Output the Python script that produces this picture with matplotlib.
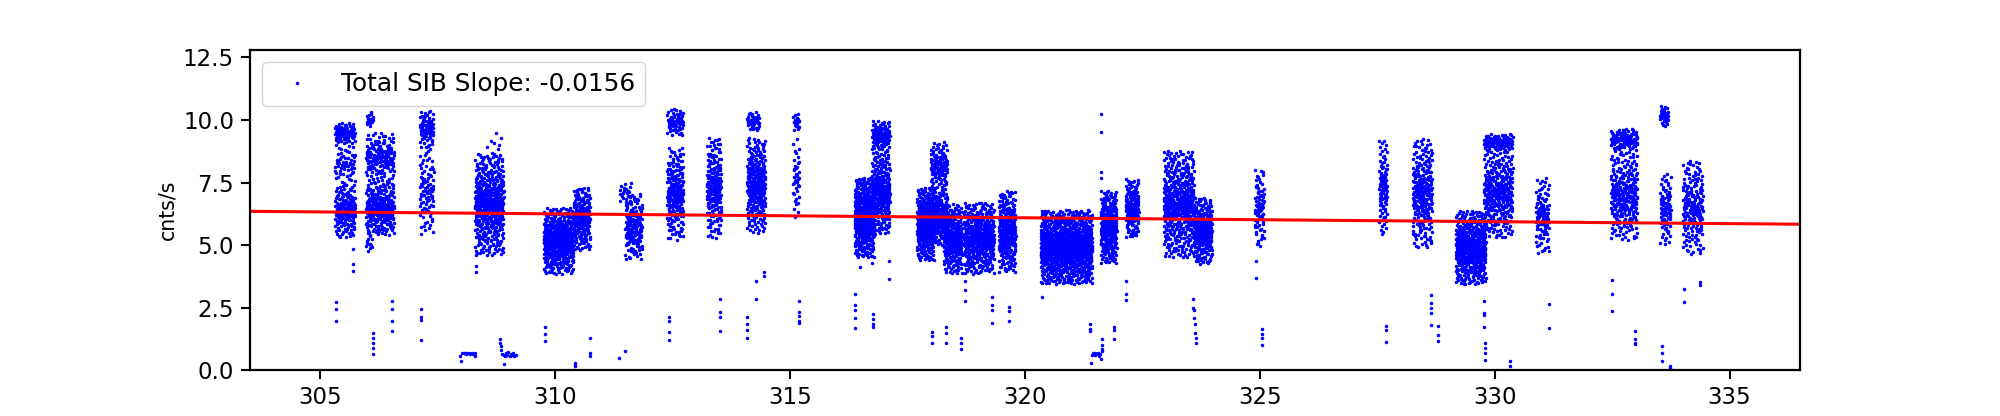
import numpy as np
import matplotlib.pyplot as plt

# dense groups: x from, x to, y from, y to, number of points
band_x0 = [305.31, 305.31, 305.31, 305.98, 305.97, 305.97, 305.97, 307.11, 307.11,
           308.29, 308.55, 309.75, 310.39, 311.35, 311.49, 312.38, 312.38, 313.23,
           314.08, 314.08, 315.06, 315.06, 316.37, 316.74, 316.74, 317.70, 317.99,
           317.99, 318.27, 318.70, 319.44, 320.33, 321.61, 322.14, 322.95, 323.60,
           324.89, 327.54, 328.25, 329.17, 329.77, 329.77, 330.87, 332.47, 332.47,
           333.52, 333.52, 334.00]
band_x1 = [305.74, 305.74, 305.74, 306.12, 306.57, 306.57, 306.10, 307.41, 307.41,
           308.90, 308.85, 310.39, 310.74, 311.63, 311.85, 312.73, 312.73, 313.53,
           314.35, 314.47, 315.20, 315.20, 316.78, 317.12, 317.12, 318.06, 318.34,
           318.34, 318.66, 319.34, 319.80, 321.43, 321.95, 322.42, 323.60, 323.98,
           325.09, 327.71, 328.67, 329.81, 330.38, 330.38, 331.16, 333.04, 333.04,
           333.70, 333.75, 334.43]
band_y0 = [9.05, 7.40, 5.30, 9.65, 7.50, 5.40, 4.65, 8.90, 5.40,
           4.60, 8.65, 3.85, 4.80, 6.65, 4.40, 9.38, 5.20, 5.30,
           9.58, 5.50, 9.58, 6.10, 4.50, 8.78, 5.44, 4.38, 7.18,
           5.00, 3.85, 3.85, 3.90, 3.45, 4.25, 5.30, 4.50, 4.25,
           4.90, 5.44, 4.90, 3.45, 8.78, 5.30, 4.65, 8.78, 5.20,
           9.75, 5.00, 4.60]
band_y1 = [9.92, 9.05, 7.45, 10.40, 9.50, 7.50, 5.40, 10.40, 8.90,
           8.65, 9.50, 6.50, 7.30, 7.60, 7.05, 10.45, 8.90, 9.30,
           10.32, 9.30, 10.30, 9.30, 7.70, 9.98, 8.78, 7.30, 9.12,
           7.18, 6.65, 6.70, 7.18, 6.40, 7.18, 7.65, 8.78, 6.90,
           8.05, 9.18, 9.25, 6.38, 9.45, 8.78, 7.72, 9.65, 8.78,
           10.55, 7.90, 8.40]
band_n = [70, 60, 150, 15, 150, 250, 12, 70, 90,
          450, 8, 420, 200, 20, 150, 60, 200, 200,
          40, 250, 20, 40, 400, 100, 250, 300, 120,
          200, 250, 400, 250, 900, 250, 150, 450, 250,
          80, 90, 250, 450, 100, 300, 100, 100, 250,
          30, 80, 180]

# single points away from the groups
out_x = [305.33, 305.33, 305.33, 305.70, 305.70, 305.70,
         306.11, 306.11, 306.11, 306.11, 306.11, 306.53, 306.53, 306.53, 306.53,
         307.13, 307.13, 307.13, 307.13, 308.31, 308.31, 308.31,
         307.97, 308.00, 308.02, 308.05, 308.08, 308.10, 308.13, 308.16, 308.19,
         308.22, 308.25, 308.28, 308.30,
         308.83, 308.83, 308.84, 308.85, 308.86, 308.90, 308.93, 308.95, 308.98,
         309.00, 309.03, 309.06, 309.08, 309.10, 309.13, 309.16, 308.91,
         309.79, 309.79, 309.79, 310.42, 310.42, 310.42, 310.73, 310.73, 310.73,
         311.35, 311.49,
         312.41, 312.41, 312.41, 312.41, 313.50, 313.50, 313.50, 313.50,
         314.28, 314.45, 314.45, 314.28, 314.09, 314.09, 314.09, 314.09,
         315.18, 315.18, 315.18, 315.18, 315.18,
         316.39, 316.39, 316.39, 316.39, 316.39, 316.76, 316.76, 316.76, 316.76,
         317.10, 317.10, 316.48, 316.74,
         318.02, 318.02, 318.02, 318.31, 318.31, 318.31, 318.63, 318.63, 318.63,
         318.73, 318.73, 318.73, 319.29, 319.29, 319.29, 319.29,
         319.66, 319.66, 319.66, 320.36, 321.39, 321.39, 321.39,
         321.40, 321.42, 321.45, 321.48, 321.50, 321.52, 321.55, 321.57, 321.60,
         321.62, 321.64, 321.64, 321.64, 321.64,
         321.89, 321.89, 321.89, 321.61, 321.61, 321.61, 321.61,
         322.16, 322.16, 322.16,
         323.57, 323.58, 323.59, 323.60, 323.61, 323.62, 323.63, 323.64,
         324.91, 324.91, 325.04, 325.04, 325.04, 325.04,
         327.68, 327.68, 327.68,
         328.65, 328.65, 328.65, 328.65, 328.65, 328.79, 328.79, 328.79,
         329.18, 329.22, 329.28, 329.35,
         329.77, 329.77, 329.77, 329.77, 329.79, 329.79, 329.79, 329.79,
         330.33, 330.33, 331.16, 331.16, 332.49, 332.49, 332.49,
         332.99, 332.99, 332.99, 332.99, 333.56, 333.56, 333.56,
         333.74, 333.74, 333.74, 334.02, 334.02, 334.38, 334.38]
out_y = [2.71, 2.44, 1.97, 4.84, 4.24, 3.98,
         1.50, 1.30, 1.10, 0.90, 0.66, 2.77, 2.44, 1.97, 1.57,
         2.44, 2.11, 2.00, 1.20, 4.62, 4.18, 3.91,
         0.57, 0.37, 0.70, 0.68, 0.70, 0.66, 0.70, 0.68, 0.66,
         0.70, 0.64, 0.68, 0.57,
         1.24, 1.10, 0.95, 0.80, 0.66, 0.60, 0.55, 0.68, 0.62,
         0.72, 0.58, 0.66, 0.60, 0.70, 0.55, 0.62, 0.24,
         1.71, 1.44, 1.17, 0.30, 0.22, 0.17, 1.30, 0.70, 0.57,
         0.48, 0.77,
         2.11, 1.97, 1.51, 1.20, 2.84, 2.31, 2.11, 1.57,
         3.58, 3.91, 3.75, 2.84, 2.11, 1.85, 1.60, 1.30,
         2.75, 2.31, 2.15, 1.98, 1.87,
         3.04, 2.60, 2.40, 2.10, 1.70, 2.24, 2.05, 1.85, 1.73,
         4.38, 3.64, 4.14, 4.27,
         1.51, 1.35, 1.07, 1.71, 1.50, 1.10, 1.28, 1.10, 0.84,
         3.58, 3.20, 2.77, 2.91, 2.60, 2.40, 1.90,
         2.51, 2.35, 1.97, 2.93, 1.84, 1.65, 1.57,
         0.30, 0.62, 0.68, 0.62, 0.70, 0.65, 0.70, 0.58, 0.66,
         0.45, 1.24, 1.00, 0.85, 0.77,
         1.73, 1.60, 1.24, 10.25, 9.52, 7.92, 7.70,
         3.55, 3.05, 2.80,
         2.84, 2.50, 2.40, 2.10, 1.85, 1.50, 1.30, 1.07,
         4.38, 3.68, 1.64, 1.45, 1.30, 1.01,
         1.77, 1.60, 1.14,
         3.02, 2.70, 2.50, 2.30, 1.80, 1.75, 1.40, 1.17,
         3.98, 3.80, 3.65, 3.44,
         2.75, 2.30, 2.20, 1.71, 1.10, 0.90, 0.70, 0.40,
         0.35, 0.17, 2.64, 1.68, 3.60, 3.04, 2.37,
         1.57, 1.25, 1.10, 1.04, 0.97, 0.70, 0.37,
         0.17, 0.10, 0.05, 3.24, 2.73, 3.53, 3.40]

slope = -0.0156
line_y0 = 6.35  # fit value at the left edge
x_min, x_max = 303.5, 336.5


def halton(i, base):
    f, r = 1.0, 0.0
    while i > 0:
        f = f / base
        r = r + f * (i % base)
        i = i // base
    return r


def fill_band(x0, x1, y0, y1, n, k):
    # spread n points over the band, a bit denser towards its middle
    start = 7 + 37 * k
    u = np.array([halton(start + i, 2) for i in range(n)])
    v = np.array([halton(start + i, 3) for i in range(n)])
    t = 2 * v - 1
    t = 0.55 * t + 0.45 * t ** 3
    return x0 + u * (x1 - x0), (y0 + y1) / 2 + t * (y1 - y0) / 2


xs, ys = [], []
for k in range(len(band_n)):
    bx, by = fill_band(band_x0[k], band_x1[k], band_y0[k], band_y1[k], band_n[k], k)
    xs.append(bx)
    ys.append(by)
xs.append(np.array(out_x))
ys.append(np.array(out_y))
x = np.concatenate(xs)
y = np.concatenate(ys)

fig, ax = plt.subplots(figsize=(20, 4.16), dpi=100)
ax.plot(x, y, 'b.', markersize=3, label='Total SIB Slope: %.4f' % slope)
lx = np.array([x_min, x_max])
ax.plot(lx, line_y0 + slope * (lx - x_min), 'r-', linewidth=2.2)

ax.set_xlim(x_min, x_max)
ax.set_ylim(0, 12.8)
ax.set_yticks([0, 2.5, 5, 7.5, 10, 12.5])
ax.set_ylabel('cnts/s', fontsize=14.8)
ax.tick_params(labelsize=16.5, length=6.5, width=1.5, pad=5)
for s in ax.spines.values():
    s.set_linewidth(1.6)
ax.legend(loc='upper left', fontsize=17.8)

plt.savefig('out.png', dpi=100)
